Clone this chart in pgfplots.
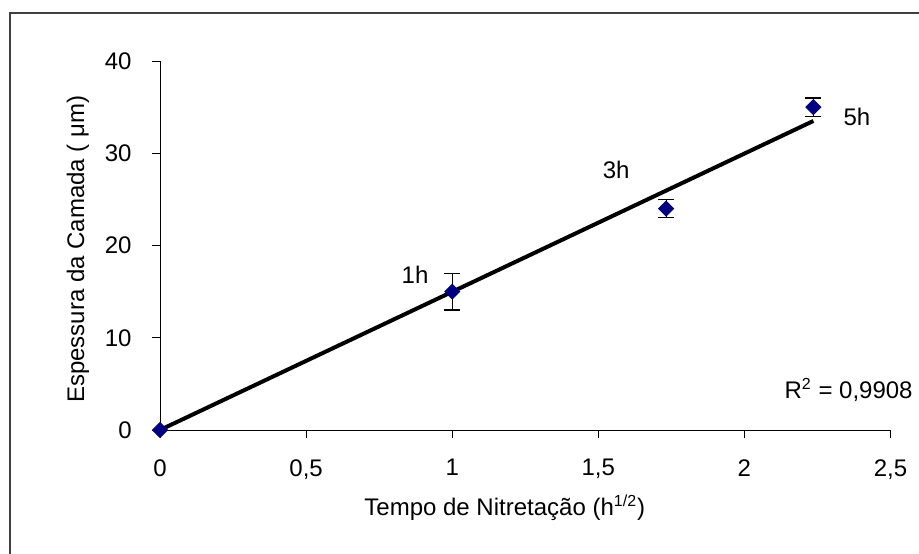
\documentclass[border=0pt]{standalone}
\usepackage{pgfplots}
\pgfplotsset{compat=1.18}
\usepackage{fontspec}
\setmainfont{Liberation Sans}
\begin{document}
\begin{tikzpicture}
\useasboundingbox (0,0) rectangle (459.5pt,276.5pt);
\draw[line width=1pt, black!75] (5pt,-5pt) -- (5pt,270pt) -- (470pt,270pt);
\begin{axis}[
  at={(80pt,61.5pt)}, anchor=south west,
  scale only axis, width=365.25pt, height=184.5pt,
  xmin=0, xmax=2.5, ymin=0, ymax=40,
  axis lines=left, axis line style={-, line width=0.5pt, black},
  tick align=outside, major tick length=4pt,
  tick style={black, line width=0.5pt},
  xtick={0,0.5,1,1.5,2,2.5}, ytick={0,10,20,30,40},
  minor tick num=0,
  font=\fontsize{12}{14}\selectfont,
  xticklabel style={anchor=north, inner sep=0pt, yshift=-10.5pt},
  yticklabel style={anchor=east, inner sep=0pt, xshift=-10pt},
  /pgf/number format/.cd, use comma, 1000 sep={}, assume math mode=true, /pgfplots/.cd,
  clip=false,
  xlabel={Tempo de Nitretação (h\textsuperscript{1/2})},
  ylabel={Espessura da Camada ( μm)},
  every axis x label/.style={at={(axis description cs:0.472,-0.2304)}, anchor=base},
  every axis y label/.style={at={(axis description cs:-0.104,0.49)}, rotate=90, anchor=base},
]
\addplot[only marks, mark=square*, mark size=2.65pt,
  mark options={rotate=45},
  color={rgb,255:red,0;green,0;blue,128},
  error bars/.cd, y dir=both, y explicit,
  error bar style={line width=0.6pt, black},
  error mark options={rotate=90, mark size=4pt, line width=0.6pt, black}]
  coordinates {(1,15) +- (0,2) (1.732,24) +- (0,1) (2.236,35) +- (0,1)};
\addplot[only marks, mark=square*, mark size=2.65pt,
  mark options={rotate=45}, color={rgb,255:red,0;green,0;blue,128}]
  coordinates {(0,0)};
\addplot[line width=2pt, black, no marks] coordinates {(0,0) (2.236,33.5)};
\node at (axis cs:0.873,16.8) {1h};
\node at (axis cs:1.561,28.2) {3h};
\node at (axis cs:2.385,33.9) {5h};
\node[anchor=east, inner sep=0pt] at (axis cs:2.577,4.34) {R\textsuperscript{2} = 0,9908};
\end{axis}
\end{tikzpicture}
\end{document}
